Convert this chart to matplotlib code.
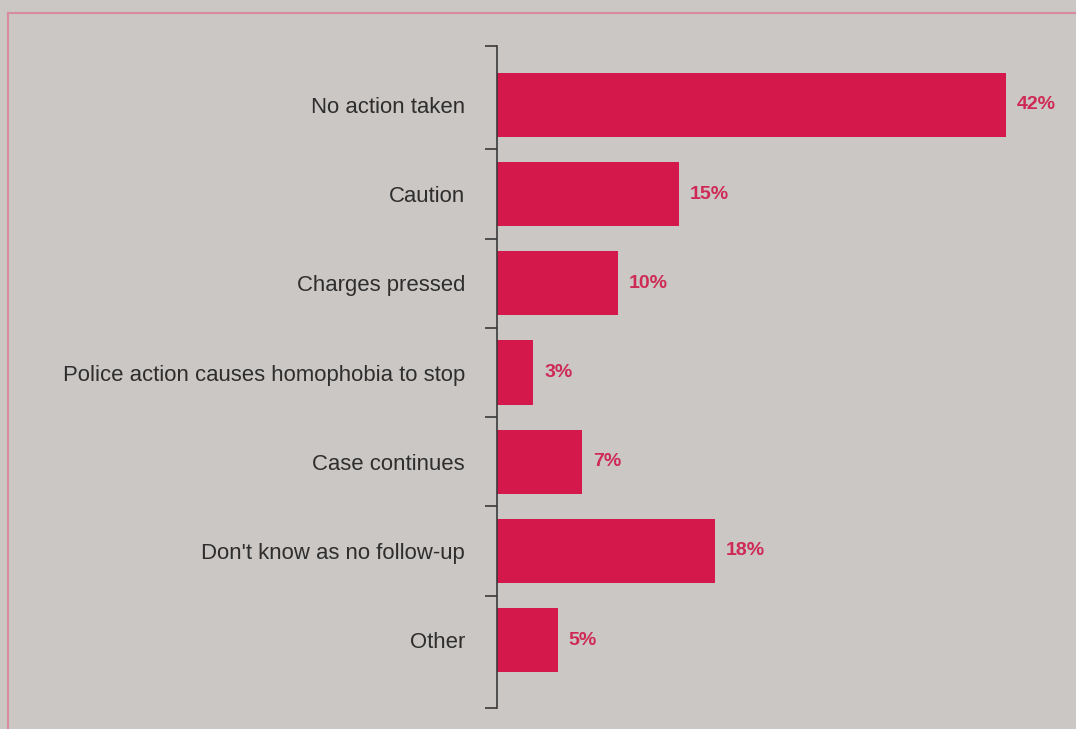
import matplotlib.pyplot as plt
from matplotlib.lines import Line2D

categories = ["No action taken", "Caution", "Charges pressed",
              "Police action causes homophobia to stop", "Case continues",
              "Don't know as no follow-up", "Other"]
values = [42, 15, 10, 3, 7, 18, 5]
value_labels = ["42%", "15%", "10%", "3%", "7%", "18%", "5%"]

bg = "#cac7c5"
bar_color = "#d5184c"
text_red = "#cf2a55"

plt.rcParams["font.family"] = ["Liberation Sans", "DejaVu Sans"]

fig = plt.figure(figsize=(10.76, 7.29), dpi=100, facecolor=bg)
ax = fig.add_axes([497 / 1076, 1 - 708 / 729, 1 - 497 / 1076, (708 - 46) / 729])
ax.set_facecolor(bg)

pos = list(range(len(categories)))
ax.barh(pos, values, height=0.72, color=bar_color)
for p, v, lab in zip(pos, values, value_labels):
    ax.text(v + 0.9, p, lab, va="center", ha="left", color=text_red,
            fontsize=14, fontweight="bold")

ax.set_xlim(0, 47.8)
ax.set_ylim(6.76, -0.66)

# labels at bar centres, small ticks at the boundaries
ax.set_yticks(pos)
ax.set_yticklabels(categories, fontsize=15.9, color="#2e2e2e")
ax.tick_params(axis="y", which="major", length=0, pad=23)
ax.set_yticks([-0.66, 0.5, 1.5, 2.5, 3.5, 4.5, 5.5, 6.76], minor=True)
ax.tick_params(axis="y", which="minor", length=8.5, width=1.2, color="#3a3a3a")
ax.set_xticks([])

for s in ["top", "right", "bottom"]:
    ax.spines[s].set_visible(False)
ax.spines["left"].set_color("#3a3a3a")
ax.spines["left"].set_linewidth(1.2)

# pink frame line at top and left
fig.add_artist(Line2D([8 / 1076, 1], [1 - 13 / 729, 1 - 13 / 729],
                      color="#d98a9c", lw=1.5, transform=fig.transFigure))
fig.add_artist(Line2D([8 / 1076, 8 / 1076], [0, 1 - 13 / 729],
                      color="#d98a9c", lw=1.5, transform=fig.transFigure))

fig.savefig("out.png", dpi=100, facecolor=bg)
